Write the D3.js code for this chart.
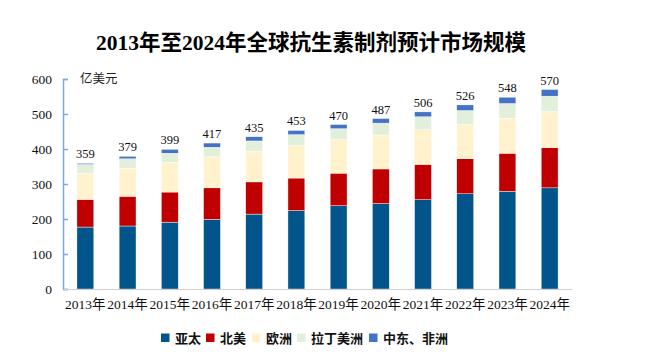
<!DOCTYPE html>
<html>
<head>
<meta charset="utf-8">
<script src="https://cdn.jsdelivr.net/npm/d3@7"></script>
<style>
  body { margin: 0; background: #fff; }
  text { font-family: "Liberation Serif", "Noto Sans CJK SC", serif; }
</style>
</head>
<body>
<div id="viz"></div>
<script>
// market size by region, 亿美元
var years = ['2013年','2014年','2015年','2016年','2017年','2018年','2019年','2020年','2021年','2022年','2023年','2024年'];
var seriesNames = ['亚太','北美','欧洲','拉丁美洲','中东、非洲'];
var apac   = [177, 180, 191, 199, 214, 224, 238, 244, 255, 272, 279, 289];
var namer  = [ 79,  85,  86,  90,  92,  93,  93,  99, 101, 100, 109, 115];
var europe = [ 74,  80,  85,  89,  88,  93,  96,  97,  99,  99, 100, 103];
var latam  = [ 26,  27,  26,  27,  29,  31,  31,  34,  37,  39,  42,  44];
var mea    = [  3,   7,  11,  12,  12,  12,  12,  13,  14,  16,  18,  19];
var totals = [359, 379, 399, 417, 435, 453, 470, 487, 506, 526, 548, 570];
var yTicks = [0, 100, 200, 300, 400, 500, 600];
var colors = ['#02558b', '#c00000', '#fff2cc', '#e2efda', '#4472c4'];

var width = 663, height = 363;
var margin = { top: 79, left: 63, right: 91, bottom: 74 };
var innerW = width - margin.left - margin.right,
    innerH = height - margin.top - margin.bottom;

var table = years.map(function(y, i) {
  return { year: y, s0: apac[i], s1: namer[i], s2: europe[i], s3: latam[i], s4: mea[i], total: totals[i] };
});
var keys = ['s0','s1','s2','s3','s4'];
var stacked = d3.stack().keys(keys)(table);

var svg = d3.select('#viz').append('svg')
  .attr('width', width)
  .attr('height', height);

svg.append('text')
  .attr('x', 311)
  .attr('y', 50)
  .attr('text-anchor', 'middle')
  .style('font-size', '21.5px')
  .style('font-weight', 'bold')
  .text('2013年至2024年全球抗生素制剂预计市场规模');

var xScale = d3.scaleBand()
  .domain(years)
  .range([0, innerW])
  .paddingInner(0.6)
  .paddingOuter(0.33);

var yScale = d3.scaleLinear()
  .domain([0, 600])
  .range([innerH, 0]);

var chart = svg.append('g')
  .attr('transform', 'translate(' + margin.left + ',' + margin.top + ')');

// bars
chart.selectAll('g.layer').data(stacked)
  .enter().append('g')
    .attr('class', 'layer')
    .attr('fill', function(d, i) { return colors[i]; })
  .selectAll('rect').data(function(d) { return d; })
  .enter().append('rect')
    .attr('x', function(d) { return xScale(d.data.year); })
    .attr('width', xScale.bandwidth())
    .attr('y', function(d) { return yScale(d[1]); })
    .attr('height', function(d) { return yScale(d[0]) - yScale(d[1]); })
    .attr('stroke', '#ffffff')
    .attr('stroke-width', 0.4);

// total labels
chart.selectAll('text.total').data(table)
  .enter().append('text')
    .attr('class', 'total')
    .attr('x', function(d) { return xScale(d.year) + xScale.bandwidth() / 2; })
    .attr('y', function(d) { return yScale(d.total) - 5; })
    .attr('text-anchor', 'middle')
    .style('font-size', '12.5px')
    .attr('fill', '#111')
    .text(function(d) { return d.total; });

// y axis
var yGuide = chart.append('g')
  .call(d3.axisLeft(yScale).tickValues(yTicks).tickSize(-5).tickPadding(11));
yGuide.select('.domain').attr('stroke', '#7fa9dc').attr('stroke-width', 1.5);
yGuide.selectAll('.tick line').attr('stroke', '#7fa9dc').attr('stroke-width', 1.5);
yGuide.selectAll('.tick text')
  .style('font-size', '13.5px')
  .style('font-family', '"Liberation Serif", serif')
  .attr('fill', '#111');

// x axis
var xGuide = chart.append('g')
  .attr('transform', 'translate(0,' + innerH + ')')
  .call(d3.axisBottom(xScale).tickSize(0).tickPadding(10));
xGuide.select('.domain').attr('stroke', '#d0d0d0').attr('stroke-width', 1.2);
xGuide.selectAll('.tick text')
  .style('font-size', '13.5px')
  .style('font-family', '"Liberation Serif", "Noto Sans CJK SC", serif')
  .attr('fill', '#111');

// unit
chart.append('text')
  .attr('x', 17)
  .attr('y', 4)
  .style('font-size', '12.5px')
  .attr('fill', '#222')
  .text('亿美元');

// legend
var legendX = [161, 206, 252, 297, 369];
var legend = svg.append('g').attr('transform', 'translate(0,338)');
var items = legend.selectAll('g').data(seriesNames)
  .enter().append('g')
    .attr('transform', function(d, i) { return 'translate(' + legendX[i] + ',0)'; });
items.append('rect')
  .attr('x', 0).attr('y', -4.5)
  .attr('width', 8.5).attr('height', 8.5)
  .attr('fill', function(d, i) { return colors[i]; });
items.append('text')
  .attr('x', 14)
  .attr('y', 4.5)
  .style('font-size', '13px')
  .style('font-weight', 'bold')
  .attr('fill', '#111')
  .text(function(d) { return d; });
</script>
</body>
</html>
